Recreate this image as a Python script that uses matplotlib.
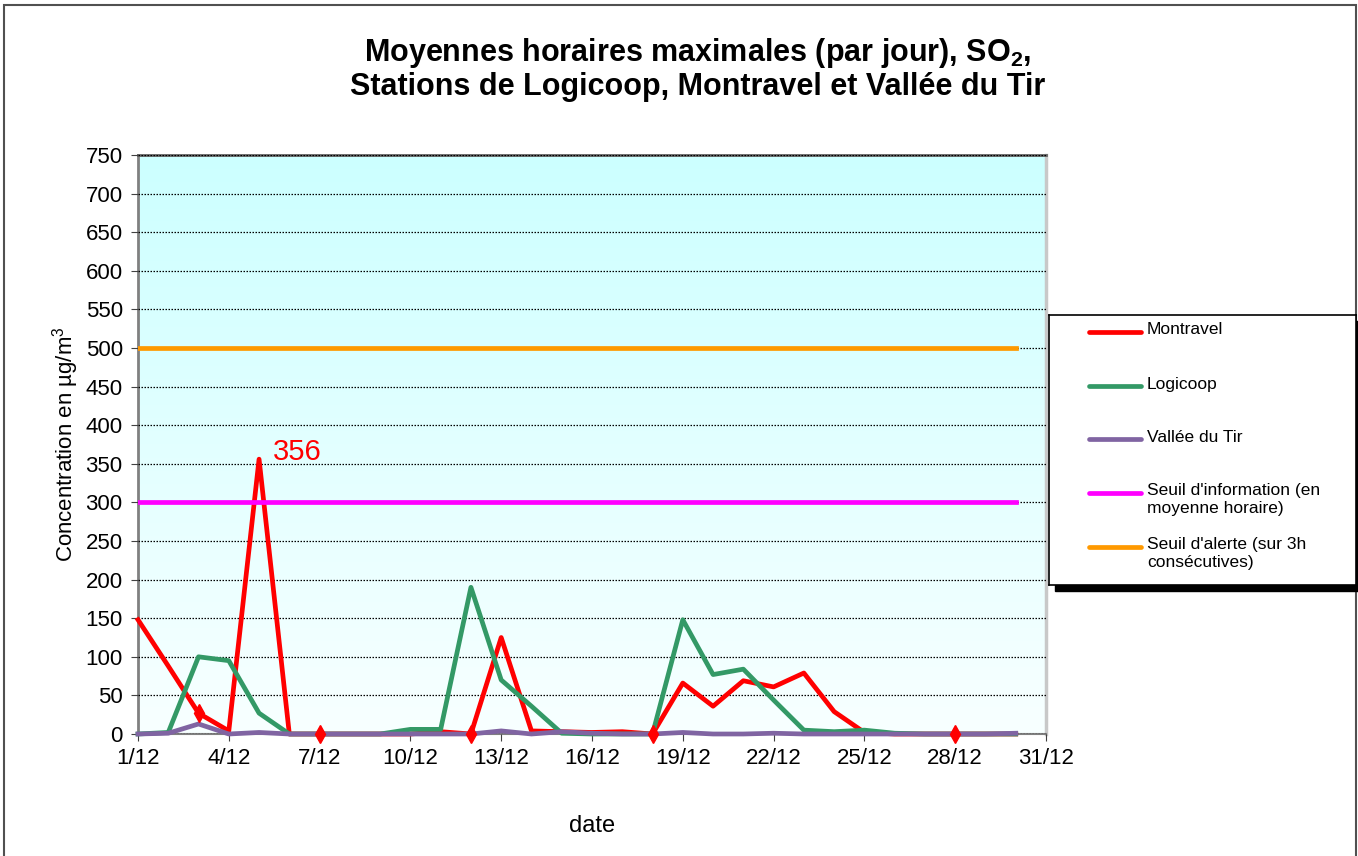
import numpy as np
import matplotlib
matplotlib.use('Agg')
import matplotlib.pyplot as plt
from matplotlib.patches import Rectangle

plt.rcParams['font.family'] = ['Liberation Sans', 'DejaVu Sans']
plt.rcParams['mathtext.fontset'] = 'custom'
plt.rcParams['mathtext.rm'] = 'Liberation Sans'
plt.rcParams['mathtext.bf'] = 'Liberation Sans:bold'
plt.rcParams['mathtext.default'] = 'regular'

# jours de decembre
days = list(range(1, 31))
montravel = [148, 88, 27, 4, 356, 0, 0, 0, 0, 0, 3, 0, 125, 4, 3, 2, 3, 0, 66, 36,
             69, 61, 79, 29, 2, 0, 0, 0, 0, 0]
logicoop = [0, 2, 100, 95, 27, 0, 0, 0, 0, 6, 6, 190, 70, 36, 1, 0, 0, 0, 148, 77,
            84, 44, 5, 3, 5, 1, 0, 0, 0, 0]
vallee = [0, 1, 13, 0, 2, 0, 0, 0, 0, 0, 0, 0, 4, 0, 3, 1, 0, 0, 2, 0,
          0, 1, 0, 0, 0, 0, 0, 0, 0, 1]
seuil_info = [300] * 30
seuil_alerte = [500] * 30
marker_days = [3, 7, 12, 18, 28]
xtick_days = list(range(1, 32, 3))
xtick_labels = ['%d/12' % d for d in xtick_days]
yticks = list(range(0, 751, 50))

W, H = 1358, 856
fig = plt.figure(figsize=(W / 100, H / 100), dpi=100)
ax = fig.add_axes([138 / W, 1 - 734 / H, 908 / W, 579 / H])

# fond degrade cyan -> blanc
grad = np.linspace(0, 1, 256).reshape(-1, 1)
top = np.array([204, 255, 255]) / 255
bot = np.array([248, 255, 255]) / 255
img = top[None, None, :] * (1 - grad[:, :, None]) + bot[None, None, :] * grad[:, :, None]
ax.imshow(img, extent=[0, 1, 0, 1], transform=ax.transAxes, aspect='auto', zorder=0)

lw = 3.4
ax.plot(days, montravel, color='#ff0000', lw=lw, label='Montravel', zorder=3, clip_on=False)
ax.plot(days, logicoop, color='#339966', lw=lw, label='Logicoop', zorder=3, clip_on=False)
ax.plot(days, vallee, color='#8064a2', lw=lw, label='Vallée du Tir', zorder=3, clip_on=False)
ax.plot(days, seuil_info, color='#ff00ff', lw=lw,
        label="Seuil d'information (en\nmoyenne horaire)", zorder=3)
ax.plot(days, seuil_alerte, color='#ff9900', lw=lw,
        label="Seuil d'alerte (sur 3h\nconsécutives)", zorder=3)
ax.plot(marker_days, [montravel[d - 1] for d in marker_days], 'd', color='#ff0000',
        markersize=9, zorder=4, clip_on=False)

imax = int(np.argmax(montravel))
ax.annotate(str(montravel[imax]), xy=(days[imax], montravel[imax]), xytext=(10, 5),
            textcoords='offset points', color='#ff0000', fontsize=21, va='center')

ax.set_xlim(1, 31)
ax.set_ylim(0, 750)
ax.set_xticks(xtick_days)
ax.set_xticklabels(xtick_labels)
ax.set_yticks(yticks)
ax.tick_params(axis='both', labelsize=16, direction='out', length=5, color='#404040')
ax.tick_params(axis='y', pad=6)
ax.tick_params(axis='x', pad=5)
ax.yaxis.grid(True, linestyle=(0, (1.2, 1.2)), color='black', lw=0.9, zorder=1)
ax.set_axisbelow(False)
for g in ax.get_ygridlines():
    g.set_zorder(1)

ax.spines['left'].set_color('#808080')
ax.spines['left'].set_linewidth(2)
ax.spines['bottom'].set_color('#808080')
ax.spines['bottom'].set_linewidth(1.5)
ax.spines['top'].set_color('#606060')
ax.spines['top'].set_linewidth(2)
ax.spines['right'].set_color('#c8c8c8')
ax.spines['right'].set_linewidth(2.5)

ax.set_ylabel('Concentration en µg/m$^3$', fontsize=16)
ax.yaxis.set_label_coords(-0.063, 0.5)
ax.set_xlabel('date', fontsize=17)
ax.xaxis.set_label_coords(0.5, -0.14)

fig.text(0.514, 1 - 69 / H,
         'Moyennes horaires maximales (par jour), SO$_\\mathbf{2}$,\n'
         'Stations de Logicoop, Montravel et Vallée du Tir',
         ha='center', va='center', fontsize=22, fontweight='bold', linespacing=1.1)

# cadre de la figure
fig.add_artist(Rectangle((4 / W, -0.05), 1352 / W, 1.05 - 5 / H, transform=fig.transFigure,
                         fill=False, edgecolor='#505050', lw=1.5))

# legende
lx0, ly0, lw_, lh_ = 1049, 315, 307, 270
fig.add_artist(Rectangle(((lx0 + 6) / W, 1 - (ly0 + lh_ + 6) / H), lw_ / W, lh_ / H,
                         transform=fig.transFigure, facecolor='black', edgecolor='black',
                         zorder=5))
lax = fig.add_axes([lx0 / W, 1 - (ly0 + lh_) / H, lw_ / W, lh_ / H], zorder=6)
lax.set_xlim(0, lw_)
lax.set_ylim(lh_, 0)
lax.set_xticks([])
lax.set_yticks([])
lax.set_facecolor('white')
for s in lax.spines.values():
    s.set_color('black')
    s.set_linewidth(1.2)
handles = ax.get_lines()[:5]
entry_y = [17, 71, 124, 178, 232]
for h, yy in zip(handles, entry_y):
    lax.plot([40, 92], [yy, yy], color=h.get_color(), lw=3.4, solid_capstyle='round')
    lax.text(98, yy - 9.5, h.get_label(), fontsize=12.5, va='top', ha='left',
             linespacing=1.2)

fig.savefig('out.png', dpi=100)
